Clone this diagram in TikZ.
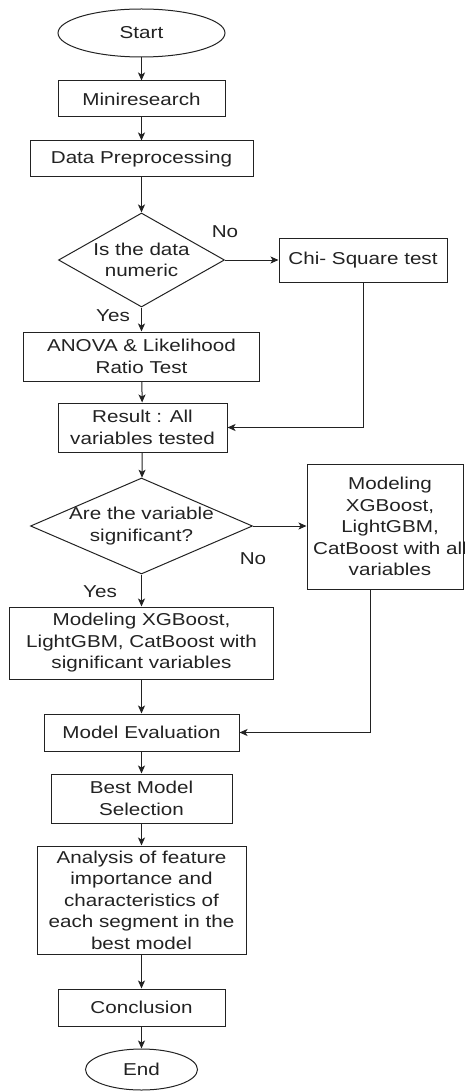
\documentclass[tikz,border=0pt]{standalone}
\usepackage{fontspec}
\setmainfont{Liberation Sans}[FakeStretch=1.2]
\usetikzlibrary{shapes.geometric,arrows.meta}
\definecolor{ink}{HTML}{222222}
\begin{document}
\begin{tikzpicture}[x=1pt,y=-1pt,
  every node/.style={font=\fontsize{17.2}{21.5}\selectfont, text=ink},
  box/.style={draw=ink, line width=1pt, rectangle, inner sep=0pt, align=center},
  term/.style={draw=ink, line width=1pt, ellipse, inner sep=0pt},
  dec/.style={draw=ink, line width=1pt, diamond, inner sep=-25pt, align=center},
  arr/.style={draw=ink, line width=1pt, -{Stealth[length=8pt,width=7pt,inset=2pt]}},
  lbl/.style={inner sep=0pt}]
\useasboundingbox (0,0) rectangle (464,1091);
\clip (0,0) rectangle (464,1091);

\node[term, minimum width=167pt, minimum height=48pt] (start) at (141.5,33) {Start};
\node[box, minimum width=167pt, minimum height=36pt] (mini) at (141.5,99) {Miniresearch};
\node[box, minimum width=223pt, minimum height=36pt] (prep) at (141.5,159) {Data Preprocessing};
\node[dec, minimum width=166pt, minimum height=94pt] (d1) at (141.5,260) {Is the data\\numeric};
\node[box, minimum width=168pt, minimum height=43pt] (chi) at (363,260.5) {Chi- Square test};
\node[box, minimum width=236pt, minimum height=49pt] (anova) at (141.5,356.5) {ANOVA \& Likelihood\\Ratio Test};
\node[box, minimum width=169pt, minimum height=49pt] (result) at (142.5,427.5) {Result : All\\variables tested};
\node[dec, minimum width=222pt, minimum height=96pt] (d2) at (141.5,526) {Are the variable\\significant?};
\node[box, minimum width=156pt, minimum height=125pt] (rbox) at (385,526.5) {};
\node[lbl, align=center] (rtext) at (390,526.5) {Modeling\\XGBoost,\\LightGBM,\\CatBoost with all\\variables};
\node[box, minimum width=264pt, minimum height=72pt] (mleft) at (141.5,643) {Modeling XGBoost,\\LightGBM, CatBoost with\\significant variables};
\node[box, minimum width=195pt, minimum height=37pt] (eval) at (141.5,732.5) {Model Evaluation};
\node[box, minimum width=181pt, minimum height=49pt] (best) at (141.5,798.5) {Best Model\\Selection};
\node[box, minimum width=209pt, minimum height=108pt] (anal) at (141.5,900) {Analysis of feature\\importance and\\characteristics of\\each segment in the\\best model};
\node[box, minimum width=167pt, minimum height=37pt] (concl) at (141.5,1007.5) {Conclusion};
\node[term, minimum width=112pt, minimum height=41pt] (end) at (141.5,1069.5) {End};

\node[lbl] (no1) at (225,232) {No};
\node[lbl] (yes1) at (113,316) {Yes};
\node[lbl] (no2) at (253,559) {No};
\node[lbl] (yes2) at (100,592) {Yes};

\draw[arr] (start) -- (mini);
\draw[arr] (mini) -- (prep);
\draw[arr] (prep) -- (d1);
\draw[arr] (d1.east) -- (d1.east -| chi.west);
\draw[arr] (d1) -- (anova);
\draw[arr] (anova) -- (result);
\draw[arr] (chi.south) |- (result.east);
\draw[arr] (result) -- (d2);
\draw[arr] (d2.east) -- (d2.east -| rbox.west);
\draw[arr] (d2) -- (mleft);
\draw[arr] (mleft) -- (eval);
\draw[arr] ([xshift=-15pt]rbox.south) |- (eval.east);
\draw[arr] (eval) -- (best);
\draw[arr] (best) -- (anal);
\draw[arr] (anal) -- (concl);
\draw[arr] (concl) -- (end);
\end{tikzpicture}
\end{document}
